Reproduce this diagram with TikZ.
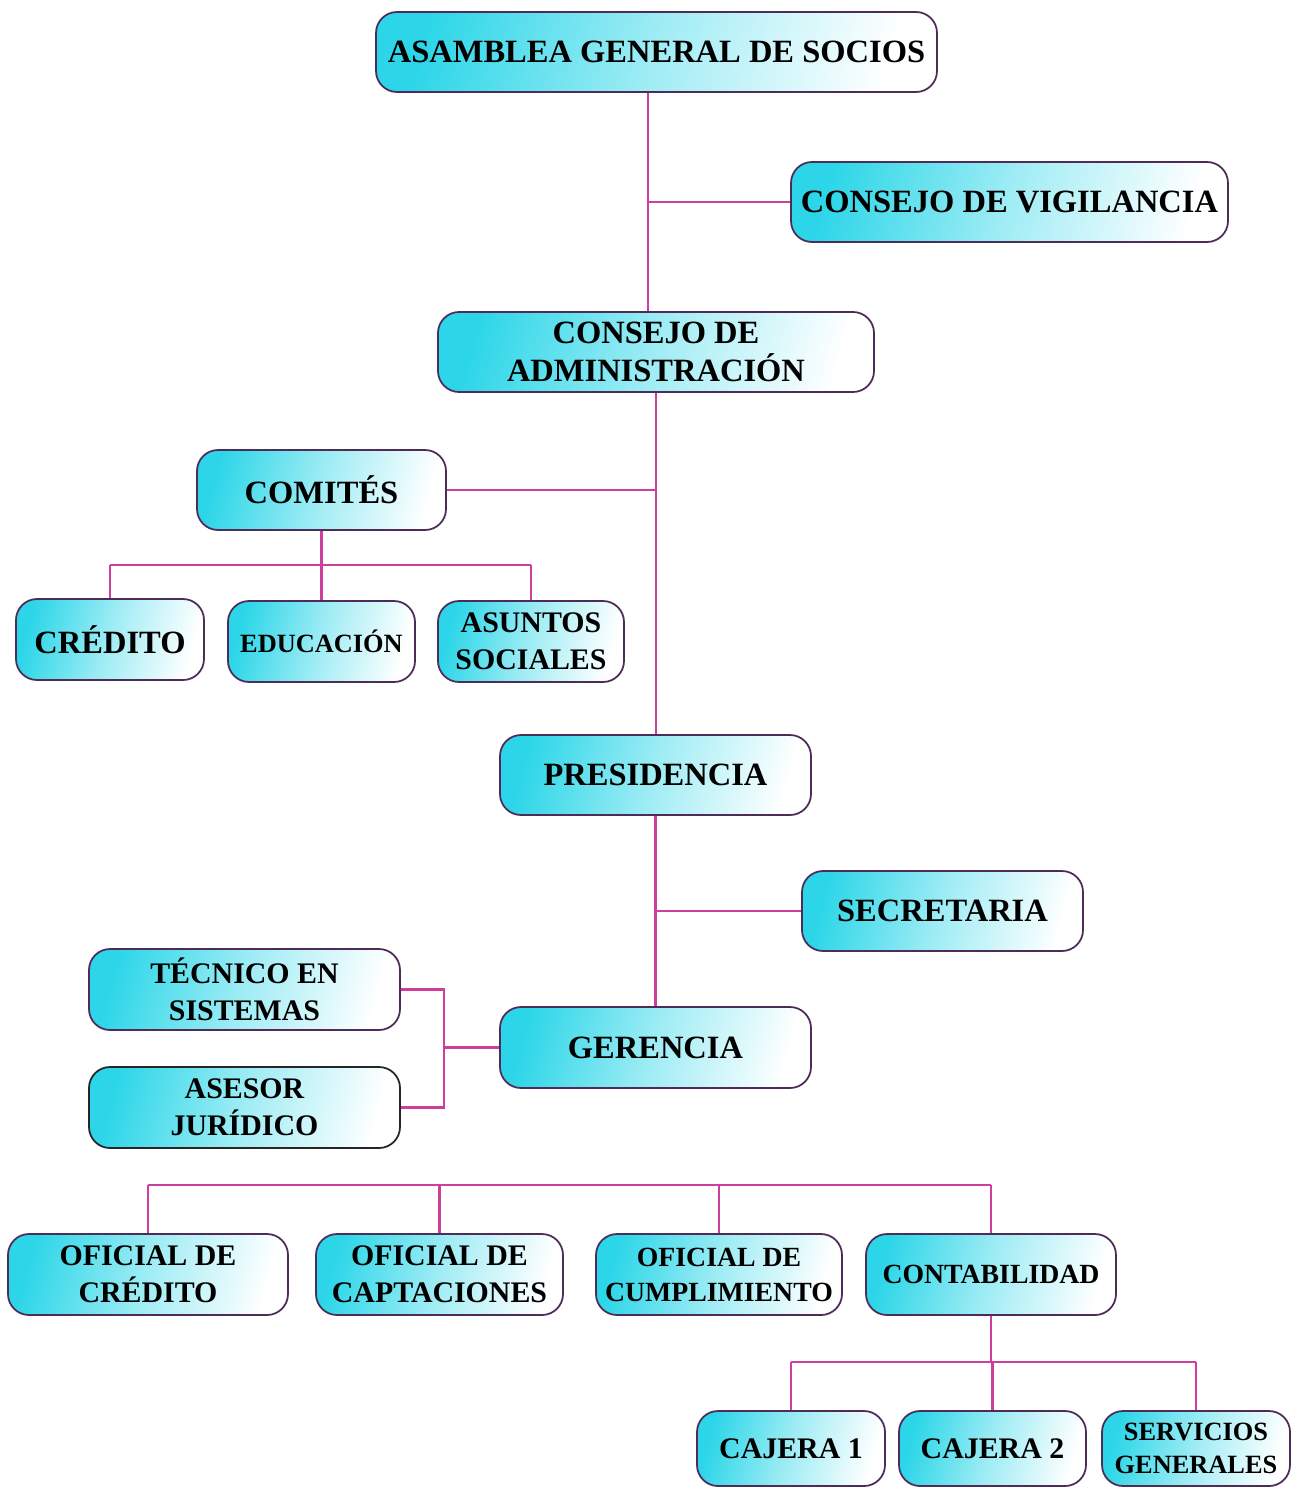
\documentclass[tikz,border=0pt]{standalone}
\usepackage{fontspec}
\setmainfont{Liberation Serif}
\definecolor{boxcyan}{RGB}{44,214,232}
\definecolor{boxedge}{RGB}{78,44,88}
\definecolor{linkcol}{RGB}{206,62,156}
\begin{document}
\begin{tikzpicture}[x=0.02cm,y=-0.02cm,
  box/.style 2 args={draw=boxedge, line width=1pt, rounded corners=0.42cm,
    left color=boxcyan, right color=white, middle color=boxcyan!45!white,
    shading angle=75,
    minimum width=#1*0.02cm, minimum height=#2*0.02cm, inner sep=0pt,
    align=center, font=\bfseries\fontsize{18.5}{22}\selectfont, text=black},
  mid/.style={font=\bfseries\fontsize{17}{21}\selectfont},
  small/.style={font=\bfseries\fontsize{15.8}{20}\selectfont},
  tiny/.style={font=\bfseries\fontsize{15}{19}\selectfont},
  link/.style={draw=linkcol, line width=1.4pt}]
\path[use as bounding box, fill=white] (0,0) rectangle (1293,1488);

\node[box={561}{80}] (asam) at (656.5,52) {ASAMBLEA GENERAL DE SOCIOS};
\node[box={437}{80}] (vig) at (1009.5,202) {CONSEJO DE VIGILANCIA};
\node[box={436}{80}] (adm) at (656,352) {CONSEJO DE\\ADMINISTRACIÓN};
\node[box={249}{80}] (com) at (321.5,490) {COMITÉS};
\node[box={188}{81}] (cred) at (110,639.5) {CRÉDITO};
\node[box={187}{81}, tiny] (edu) at (321.5,641.5) {EDUCACIÓN};
\node[box={186}{81}, mid] (asun) at (531,641.5) {ASUNTOS\\SOCIALES};
\node[box={311}{80}] (pres) at (655.5,775) {PRESIDENCIA};
\node[box={281}{80}] (sec) at (942.5,911) {SECRETARIA};
\node[box={311}{81}, mid] (tec) at (244.5,989.5) {TÉCNICO EN\\SISTEMAS};
\node[box={311}{81}] (ger) at (655.5,1047.5) {GERENCIA};
\node[box={311}{81}, mid, draw=black!85] (ase) at (244.5,1107.5) {ASESOR\\JURÍDICO};
\node[box={280}{81}, mid] (ofc) at (148,1274.5) {OFICIAL DE\\CRÉDITO};
\node[box={247}{81}, mid] (ofcap) at (439.5,1274.5) {OFICIAL DE\\CAPTACIONES};
\node[box={246}{81}, small] (ofcum) at (719,1274.5) {OFICIAL DE\\CUMPLIMIENTO};
\node[box={250}{81}, small] (cont) at (991,1274.5) {CONTABILIDAD};
\node[box={188}{75}, mid] (caj1) at (791,1448.5) {CAJERA 1};
\node[box={187}{75}, mid] (caj2) at (992.5,1448.5) {CAJERA 2};
\node[box={188}{75}, tiny] (serv) at (1196,1448.5) {SERVICIOS\\GENERALES};

% Asamblea -> Administracion, Vigilancia
\coordinate (a1) at (648,92);
\draw[link] (asam.south -| a1) -- (adm.north -| a1);
\draw[link] (vig.west -| a1) -- (vig.west);
% Administracion -> Presidencia, Comites
\draw[link] (adm.south) -- (adm.south |- pres.north);
\draw[link] (adm.south |- com.east) -- (com.east);
% Comites
\coordinate (cb) at (321,565);
\draw[link] (com.south) -- (com.south |- cb);
\draw[link] (cred.north |- cb) -- (asun.north |- cb);
\draw[link] (cred.north |- cb) -- (cred.north);
\draw[link] (edu.north |- cb) -- (edu.north);
\draw[link] (asun.north |- cb) -- (asun.north);
% Presidencia -> Gerencia, Secretaria
\draw[link] (pres.south) -- (pres.south |- ger.north);
\draw[link] (pres.south |- sec.west) -- (sec.west);
% Gerencia staff
\coordinate (gj) at (444,1048);
\draw[link] (ger.west) -- (ger.west -| gj);
\draw[link] (tec.east) -- (tec.east -| gj) -- (ase.east -| gj) -- (ase.east);
% Oficiales bar
\coordinate (ob) at (0,1185);
\draw[link] (ofc.north |- ob) -- (cont.north |- ob);
\draw[link] (ofc.north |- ob) -- (ofc.north);
\draw[link] (ofcap.north |- ob) -- (ofcap.north);
\draw[link] (ofcum.north |- ob) -- (ofcum.north);
\draw[link] (cont.north |- ob) -- (cont.north);
% Contabilidad
\coordinate (cb2) at (0,1362);
\draw[link] (cont.south) -- (cont.south |- cb2);
\draw[link] (caj1.north |- cb2) -- (serv.north |- cb2);
\draw[link] (caj1.north |- cb2) -- (caj1.north);
\draw[link] (caj2.north |- cb2) -- (caj2.north);
\draw[link] (serv.north |- cb2) -- (serv.north);
\end{tikzpicture}
\end{document}
